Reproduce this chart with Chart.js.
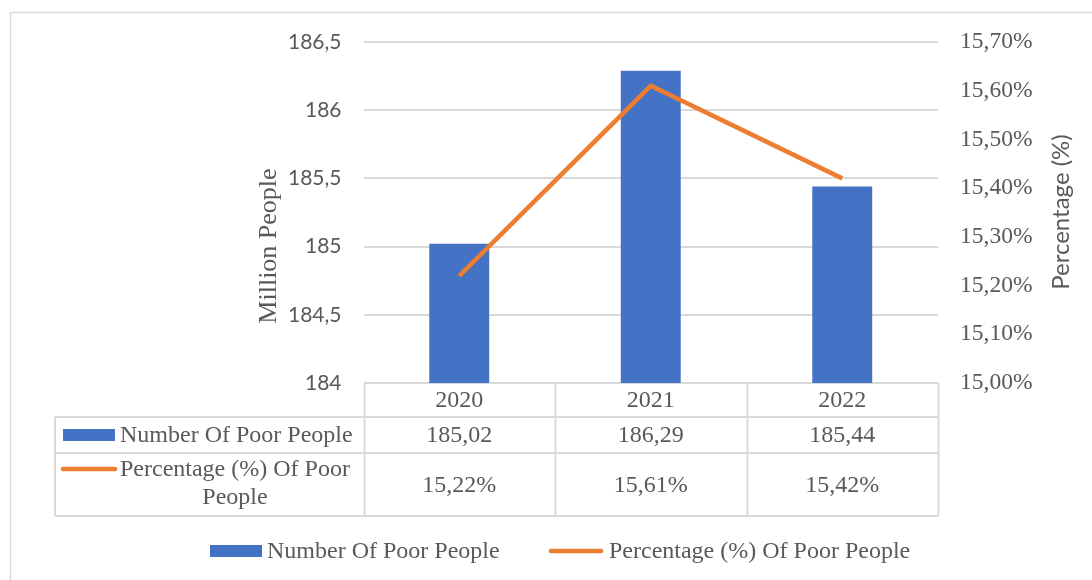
<!DOCTYPE html>
<html>
<head>
<meta charset="utf-8">
<script src="https://cdn.jsdelivr.net/npm/chart.js@4.4.1/dist/chart.umd.min.js"></script>
<style>
  html, body { margin: 0; padding: 0; background: #fff; }
  #wrap { width: 1092px; height: 580px; position: relative; }
</style>
</head>
<body>
<div id="wrap"><canvas id="povertyChart" width="1092" height="580"></canvas></div>
<script>
// chart data
const years = ['2020', '2021', '2022'];
const poorPeople = [185.02, 186.29, 185.44];
const poorPercent = [15.22, 15.61, 15.42];
const leftTicks = [184, 184.5, 185, 185.5, 186, 186.5];
const rightTicks = [15.0, 15.1, 15.2, 15.3, 15.4, 15.5, 15.6, 15.7];

const BLUE = '#4472C4';
const ORANGE = '#ED7D31';
const TEXT = '#595959';
const GRID = '#d9d9d9';
const SERIF = '"Liberation Serif", "Times New Roman", serif';
const SANS = 'Lato, "Open Sans", sans-serif';

function comma(v, digits) {
    return v.toFixed(digits).replace('.', ',');
}

// data table under the plot, axis titles, bottom legend, outer frame
const tablePlugin = {
    id: 'dataTable',
    afterDraw(chart) {
        const ctx = chart.ctx;
        const x = chart.scales.x;
        const area = chart.chartArea;
        const step = (area.right - area.left) / years.length;
        const top = area.bottom;
        const rows = [top, top + 34, top + 70, top + 133];
        const labelLeft = 55;
        const barLabel = chart.data.datasets[1].label;
        const lineLabel = chart.data.datasets[0].label;

        ctx.save();
        // outer frame
        ctx.strokeStyle = GRID;
        ctx.lineWidth = 1.5;
        ctx.strokeRect(10.5, 12.5, 1100, 600);

        ctx.lineWidth = 2;
        ctx.beginPath();
        for (let i = 0; i <= years.length; i++) {
            const vx = Math.round(area.left + i * step) + 0.5;
            ctx.moveTo(vx, rows[0]);
            ctx.lineTo(vx, rows[3]);
        }
        ctx.moveTo(labelLeft, rows[1]);
        ctx.lineTo(labelLeft, rows[3]);
        for (let r = 1; r < rows.length; r++) {
            ctx.moveTo(labelLeft, rows[r]);
            ctx.lineTo(area.right, rows[r]);
        }
        ctx.stroke();

        ctx.fillStyle = TEXT;
        ctx.font = '24px ' + SERIF;
        ctx.textAlign = 'center';
        ctx.textBaseline = 'middle';
        years.forEach((yr, i) => {
            const cx = x.getPixelForValue(i);
            ctx.fillText(yr, cx, (rows[0] + rows[1]) / 2 + 1);
            ctx.fillText(comma(poorPeople[i], 2), cx, (rows[1] + rows[2]) / 2 + 1);
            ctx.fillText(comma(poorPercent[i], 2) + '%', cx, (rows[2] + rows[3]) / 2 + 1);
        });

        // row labels with legend keys
        ctx.fillStyle = BLUE;
        ctx.fillRect(63, 429, 52, 12);
        ctx.fillStyle = TEXT;
        ctx.textAlign = 'left';
        ctx.fillText(barLabel, 120, 436);

        ctx.strokeStyle = ORANGE;
        ctx.lineWidth = 4.5;
        ctx.lineCap = 'round';
        ctx.beginPath();
        ctx.moveTo(63, 469);
        ctx.lineTo(115, 469);
        ctx.stroke();
        ctx.fillText('Percentage (%) Of Poor', 120, 470);
        ctx.textAlign = 'center';
        ctx.fillText('People', 235, 498);

        // bottom legend
        ctx.fillStyle = BLUE;
        ctx.fillRect(210, 545, 52, 12);
        ctx.fillStyle = TEXT;
        ctx.textAlign = 'left';
        ctx.fillText(barLabel, 267, 552);
        ctx.beginPath();
        ctx.moveTo(551, 551);
        ctx.lineTo(601, 551);
        ctx.stroke();
        ctx.fillText(lineLabel, 609, 552);

        // axis titles
        ctx.textAlign = 'center';
        ctx.save();
        ctx.translate(269, 246);
        ctx.rotate(-Math.PI / 2);
        ctx.font = '26px ' + SERIF;
        ctx.fillText('Million People', 0, 0);
        ctx.restore();
        ctx.save();
        ctx.translate(1061, 212);
        ctx.rotate(-Math.PI / 2);
        ctx.font = '24px ' + SANS;
        ctx.fillText('Percentage (%)', 0, 0);
        ctx.restore();
        ctx.restore();
    }
};

const ctx = document.getElementById('povertyChart');
new Chart(ctx, {
    data: {
        labels: years,
        datasets: [{
            type: 'line',
            label: 'Percentage (%) Of Poor People',
            data: poorPercent,
            yAxisID: 'y1',
            borderColor: ORANGE,
            borderWidth: 4.5,
            pointRadius: 0,
            tension: 0,
            order: 0
        }, {
            type: 'bar',
            label: 'Number Of Poor People',
            data: poorPeople,
            yAxisID: 'y',
            backgroundColor: BLUE,
            categoryPercentage: 1,
            barPercentage: 0.313,
            order: 1
        }]
    },
    options: {
        responsive: false,
        animation: false,
        layout: {
            autoPadding: false,
            padding: { left: 250, right: 15, top: 42, bottom: 197 }
        },
        plugins: {
            legend: { display: false },
            tooltip: { enabled: false }
        },
        scales: {
            x: {
                grid: { display: false },
                border: { display: false },
                ticks: { display: false },
                afterFit(scale) { scale.height = 0; }
            },
            y: {
                position: 'left',
                min: 184,
                max: 186.5,
                afterBuildTicks(scale) { scale.ticks = leftTicks.map(v => ({ value: v })); },
                afterFit(scale) { scale.width = 113.5; },
                grid: { color: GRID, lineWidth: 2, drawTicks: false },
                border: { display: false },
                ticks: {
                    padding: 22,
                    color: TEXT,
                    font: { family: SANS, size: 21 },
                    callback: v => comma(v, v % 1 === 0 ? 0 : 1)
                }
            },
            y1: {
                position: 'right',
                min: 15,
                max: 15.7,
                afterBuildTicks(scale) { scale.ticks = rightTicks.map(v => ({ value: v })); },
                afterFit(scale) { scale.width = 139; },
                grid: { display: false },
                border: { display: false },
                ticks: {
                    padding: 14,
                    color: TEXT,
                    font: { family: SERIF, size: 23.5 },
                    callback: v => comma(v, 2) + '%'
                }
            }
        }
    },
    plugins: [tablePlugin]
});
</script>
</body>
</html>
